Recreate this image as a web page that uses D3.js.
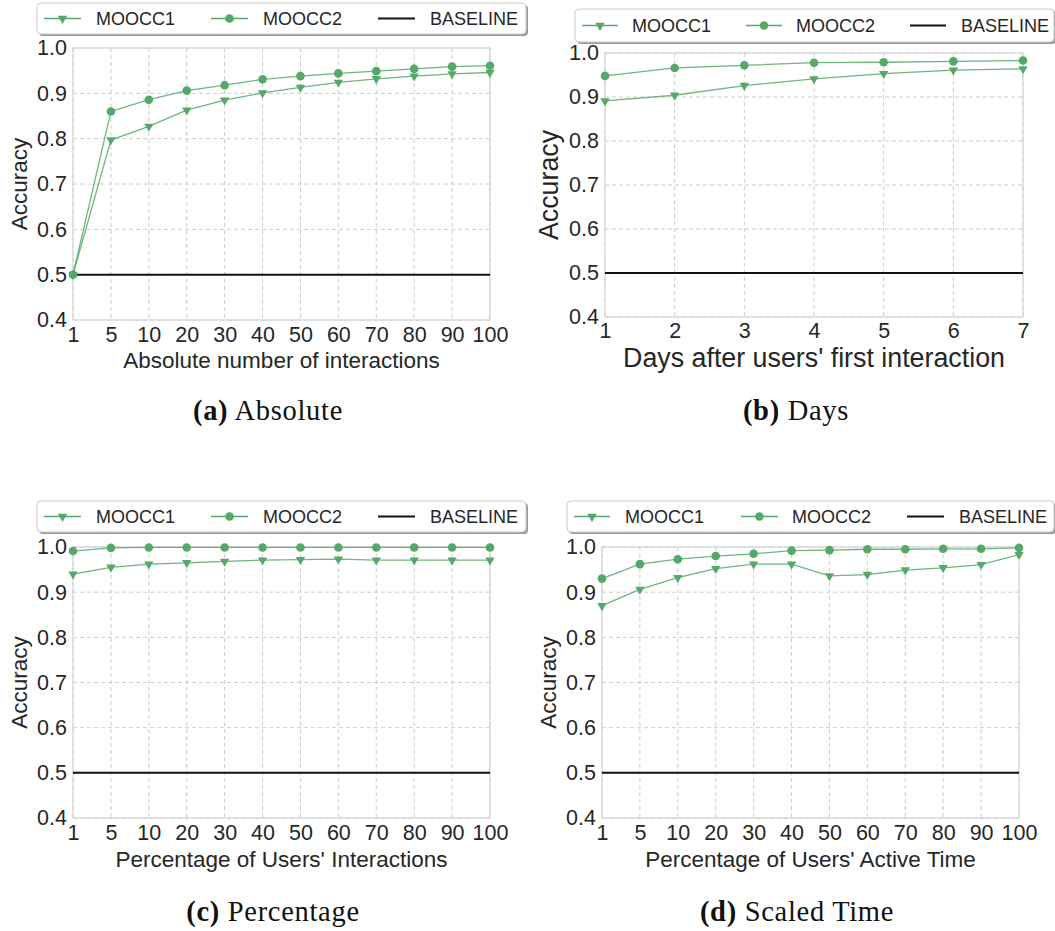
<!DOCTYPE html>
<meta charset="utf-8">
<style>
  body { margin: 0; background: #fff; }
  svg { font-family: "Liberation Sans", Arial, sans-serif; }
  .grid line { stroke: #cccccc; stroke-dasharray: 4,3; stroke-width: 1px; }
  .tick text { fill: #262626; font-family: "Liberation Sans", Arial, sans-serif; }
  .caption { font-family: "Liberation Serif", "DejaVu Serif", serif; fill: #111; }
</style>
<body>
<script src="https://cdn.jsdelivr.net/npm/d3@7"></script>
<script>
  // x categories
  var pctCats = ["1", "5", "10", "20", "30", "40", "50", "60", "70", "80", "90", "100"];
  var dayCats = ["1", "2", "3", "4", "5", "6", "7"];

  // (a) Absolute
  var absM1 = [0.500, 0.797, 0.827, 0.863, 0.885, 0.901, 0.913, 0.924, 0.932, 0.938, 0.943, 0.946];
  var absM2 = [0.500, 0.860, 0.886, 0.906, 0.918, 0.931, 0.938, 0.944, 0.949, 0.954, 0.959, 0.961];
  // (b) Days
  var dayM1 = [0.891, 0.904, 0.926, 0.941, 0.953, 0.961, 0.964];
  var dayM2 = [0.948, 0.966, 0.972, 0.978, 0.979, 0.981, 0.983];
  // (c) Percentage
  var pctM1 = [0.940, 0.955, 0.962, 0.965, 0.968, 0.971, 0.972, 0.973, 0.971, 0.971, 0.971, 0.971];
  var pctM2 = [0.991, 0.998, 0.999, 0.999, 0.999, 0.999, 0.999, 0.999, 0.999, 0.999, 0.999, 0.999];
  // (d) Scaled Time
  var timeM1 = [0.870, 0.906, 0.932, 0.952, 0.962, 0.962, 0.936, 0.939, 0.949, 0.954, 0.961, 0.983];
  var timeM2 = [0.930, 0.962, 0.973, 0.980, 0.985, 0.992, 0.993, 0.995, 0.995, 0.996, 0.996, 0.998];

  var baseline = 0.5;
  var yTicks = [0.4, 0.5, 0.6, 0.7, 0.8, 0.9, 1.0];
  var seriesNames = ["MOOCC1", "MOOCC2", "BASELINE"];

  var green = "#55a868";

  var svg = d3.select("body").append("svg")
      .attr("width", 1055)
      .attr("height", 931);

  var panels = [
    { cats: pctCats, m1: absM1, m2: absM2, xlabel: "Absolute number of interactions", xlabelSize: 22.5,
      x0: 73, x1: 490, y0: 48, y1: 320, ylabX: 27, ylabSize: 22.5, xtickY: 336, xlabY: 368,
      leg: { x: 37, y: 3, w: 489, h: 31, items: [[44, 81, 96], [211, 248, 263], [378, 415, 430]] },
      cap: ["(a)", "Absolute"], capX: 268, capY: 420 },
    { cats: dayCats, m1: dayM1, m2: dayM2, xlabel: "Days after users' first interaction", xlabelSize: 26.8,
      x0: 605, x1: 1023, y0: 53, y1: 317, ylabX: 558, ylabSize: 26.8, xtickY: 332, xlabY: 367,
      leg: { x: 575, y: 9, w: 479, h: 33, items: [[582, 618, 632], [746, 782, 796], [910, 946, 961]] },
      cap: ["(b)", "Days"], capX: 796, capY: 420 },
    { cats: pctCats, m1: pctM1, m2: pctM2, xlabel: "Percentage of Users' Interactions", xlabelSize: 22.5,
      x0: 73, x1: 490, y0: 547, y1: 818, ylabX: 27, ylabSize: 22.5, xtickY: 834, xlabY: 867,
      leg: { x: 37, y: 501, w: 489, h: 31, items: [[44, 81, 96], [211, 248, 263], [378, 415, 430]] },
      cap: ["(c)", "Percentage"], capX: 273, capY: 921 },
    { cats: pctCats, m1: timeM1, m2: timeM2, xlabel: "Percentage of Users' Active Time", xlabelSize: 22.5,
      x0: 602, x1: 1019, y0: 547, y1: 818, ylabX: 556, ylabSize: 22.5, xtickY: 834, xlabY: 867,
      leg: { x: 567, y: 501, w: 487, h: 31, items: [[574, 610, 625], [741, 778, 792], [907, 944, 959]] },
      cap: ["(d)", "Scaled Time"], capX: 797, capY: 921 }
  ];

  var tri = d3.symbol().type(d3.symbolTriangle).size(38);

  function drawMarker(sel, kind) {
    if (kind === "MOOCC1") {
      sel.append("path").attr("d", tri).attr("transform", "rotate(180)")
        .attr("fill", green);
    } else if (kind === "MOOCC2") {
      sel.append("circle").attr("r", 4.3).attr("fill", green);
    }
  }

  panels.forEach(function(p) {
    var x = d3.scalePoint().domain(p.cats).range([p.x0, p.x1]).padding(0);
    var y = d3.scaleLinear().domain([0.4, 1.0]).range([p.y1, p.y0]);
    var g = svg.append("g");

    // grid
    var grid = g.append("g").attr("class", "grid");
    grid.selectAll(".gx").data(p.cats).enter().append("line")
      .attr("x1", d => x(d)).attr("x2", d => x(d))
      .attr("y1", p.y0).attr("y2", p.y1);
    grid.selectAll(".gy").data(yTicks).enter().append("line")
      .attr("x1", p.x0).attr("x2", p.x1)
      .attr("y1", d => y(d)).attr("y2", d => y(d));

    // frame
    g.append("rect")
      .attr("x", p.x0).attr("y", p.y0)
      .attr("width", p.x1 - p.x0).attr("height", p.y1 - p.y0)
      .attr("fill", "none").attr("stroke", "#d4d4d4").attr("stroke-width", 1.2);

    // axes
    var yAxis = g.append("g").attr("transform", "translate(" + p.x0 + ",0)")
      .call(d3.axisLeft(y).tickValues(yTicks).tickFormat(d3.format(".1f")).tickSize(0).tickPadding(6));
    yAxis.select(".domain").remove();
    yAxis.selectAll("text").attr("font-size", 21.5);

    var xAxis = g.append("g").attr("transform", "translate(0," + p.y1 + ")")
      .call(d3.axisBottom(x).tickSize(0).tickPadding(0));
    xAxis.select(".domain").remove();
    xAxis.selectAll("text").attr("font-size", 21.5).attr("dy", null)
      .attr("y", p.xtickY - p.y1).attr("dominant-baseline", "middle");

    g.append("text")
      .attr("transform", "translate(" + p.ylabX + "," + ((p.y0 + p.y1) / 2) + ") rotate(-90)")
      .attr("text-anchor", "middle").attr("font-size", p.ylabSize).attr("fill", "#262626")
      .text("Accuracy");
    g.append("text")
      .attr("x", (p.x0 + p.x1) / 2).attr("y", p.xlabY)
      .attr("text-anchor", "middle").attr("font-size", p.xlabelSize).attr("fill", "#262626")
      .text(p.xlabel);

    // series
    var line = d3.line().x((d, i) => x(p.cats[i])).y(d => y(d));
    g.append("line")
      .attr("x1", p.x0).attr("x2", p.x1)
      .attr("y1", y(baseline)).attr("y2", y(baseline))
      .attr("stroke", "#111").attr("stroke-width", 2);

    [[p.m1, "MOOCC1"], [p.m2, "MOOCC2"]].forEach(function(s) {
      g.append("path").datum(s[0]).attr("d", line)
        .attr("fill", "none").attr("stroke", green).attr("stroke-opacity", 0.85).attr("stroke-width", 1.3);
      g.selectAll(null).data(s[0]).enter().append("g")
        .attr("transform", (d, i) => "translate(" + x(p.cats[i]) + "," + y(d) + ")")
        .each(function() { drawMarker(d3.select(this), s[1]); });
    });

    // legend
    var L = p.leg;
    g.append("rect").attr("x", L.x + 2).attr("y", L.y + 2).attr("width", L.w).attr("height", L.h)
      .attr("rx", 4).attr("fill", "#9a9a9a");
    g.append("rect").attr("x", L.x).attr("y", L.y).attr("width", L.w).attr("height", L.h)
      .attr("rx", 4).attr("fill", "#fff").attr("stroke", "#cccccc").attr("stroke-width", 1);
    var cy = L.y + L.h / 2;
    seriesNames.forEach(function(name, i) {
      var it = L.items[i];
      g.append("line").attr("x1", it[0]).attr("x2", it[1]).attr("y1", cy).attr("y2", cy)
        .attr("stroke", name === "BASELINE" ? "#111" : green)
        .attr("stroke-width", name === "BASELINE" ? 2 : 1.3);
      var m = g.append("g").attr("transform", "translate(" + ((it[0] + it[1]) / 2) + "," + cy + ")");
      drawMarker(m, name);
      g.append("text").attr("x", it[2]).attr("y", cy).attr("dominant-baseline", "central")
        .attr("font-size", 18).attr("fill", "#262626").text(name);
    });

    // caption
    var cap = svg.append("text").attr("class", "caption")
      .attr("x", p.capX).attr("y", p.capY).attr("text-anchor", "middle")
      .attr("font-size", 28.5).attr("letter-spacing", 0.7);
    cap.append("tspan").attr("font-weight", "bold").text(p.cap[0]);
    cap.append("tspan").text(" " + p.cap[1]);
  });
</script>
</body>
